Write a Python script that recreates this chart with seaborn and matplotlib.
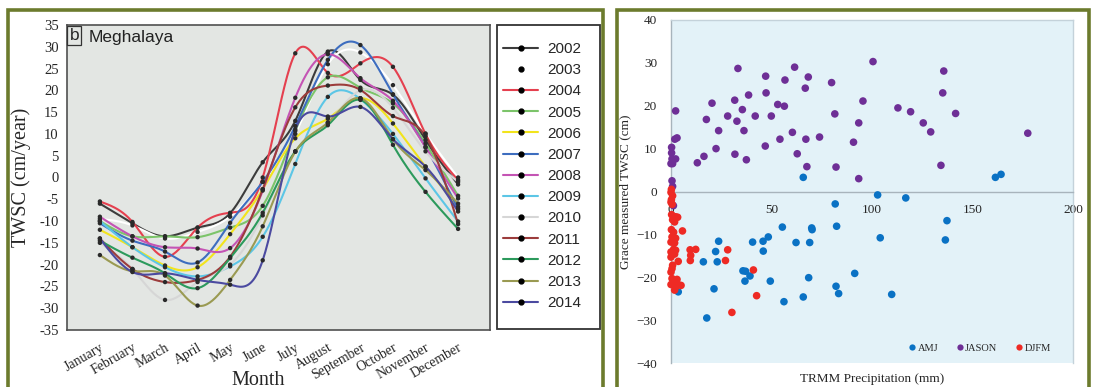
import numpy as np
import pandas as pd
import matplotlib
matplotlib.use("Agg")
import matplotlib.pyplot as plt
import seaborn as sns
from matplotlib.lines import Line2D
from matplotlib.patches import Rectangle

# ---------------- data: left panel (Meghalaya TWSC) ----------------
months = ["January", "February", "March", "April", "May", "June", "July",
          "August", "September", "October", "November", "December"]
years = ["2002", "2003", "2004", "2005", "2006", "2007", "2008",
         "2009", "2010", "2011", "2012", "2013", "2014"]
twsc_2002 = [-6.0, -10.5, -13.5, -11.5, -8.2, 3.5, 13.0, 28.9, 22.4, 19.0, 8.6, -1.6]
twsc_2003 = [-9.5, -11.0, -14.0, -12.5, -9.0, -1.0, 10.0, 26.0, 28.7, 21.2, 10.1, 0.0]
twsc_2004 = [-5.5, -10.2, -18.2, -11.5, -8.1, 0.0, 28.5, 24.0, 26.2, 25.4, 10.0, -0.6]
twsc_2005 = [-10.0, -13.5, -13.5, -13.7, -11.5, -6.5, 10.7, 23.0, 20.6, 17.0, 7.8, -4.2]
twsc_2006 = [-12.0, -16.0, -20.2, -20.6, -13.0, -2.7, 9.0, 13.5, 18.2, 12.4, 2.5, -6.7]
twsc_2007 = [-10.5, -14.5, -17.0, -19.5, -10.4, -1.0, 11.8, 27.0, 30.4, 19.1, 7.0, -7.2]
twsc_2008 = [-9.0, -13.5, -16.0, -16.3, -16.2, -3.0, 18.3, 28.3, 22.8, 17.6, 6.9, -4.8]
twsc_2009 = [-10.0, -16.0, -20.6, -22.7, -20.4, -13.6, 3.1, 18.5, 18.0, 10.0, -0.2, -10.1]
twsc_2010 = [-15.0, -21.0, -28.1, -24.0, -20.0, -8.7, 6.0, 12.6, 20.0, 16.0, 6.0, -1.0]
twsc_2011 = [-14.0, -21.0, -24.0, -23.5, -18.2, -2.7, 16.1, 21.1, 20.1, 14.1, 9.5, -10.7]
twsc_2012 = [-14.5, -18.4, -22.0, -25.4, -18.5, -8.1, 6.0, 12.0, 17.8, 7.5, -3.3, -11.8]
twsc_2013 = [-17.8, -21.5, -22.5, -29.4, -23.5, -11.2, 5.9, 12.6, 18.2, 8.8, 1.7, -6.0]
twsc_2014 = [-14.0, -21.7, -22.0, -23.5, -24.6, -19.0, 11.0, 14.0, 16.2, 8.8, 2.5, -7.8]
year_series = [twsc_2002, twsc_2003, twsc_2004, twsc_2005, twsc_2006, twsc_2007, twsc_2008,
               twsc_2009, twsc_2010, twsc_2011, twsc_2012, twsc_2013, twsc_2014]
year_colors = ["#3c3c3c", "#ffffff", "#e5404f", "#7cc46a", "#f2e41c", "#3d6dbf", "#c454b4",
               "#5cc6e6", "#d6d6d6", "#9c3c3c", "#2c9a5c", "#9a9a52", "#4b4aa0"]

# ---------------- data: right panel (scatter) ----------------
amj_x = [65.8, 161.4, 164.2, 102.8, 116.8, 3.6, 16.1, 17.8, 21.4, 22.2, 23.0, 23.7, 35.8, 36.8,
         37.1, 39.3, 40.6, 45.8, 45.9, 48.4, 49.4, 55.4, 56.2, 62.2, 65.8, 68.5, 69.0, 70.0,
         70.2, 81.7, 82.4, 82.1, 83.4, 91.4, 104.1, 109.8, 137.3, 136.5]
amj_y = [3.3, 3.3, 4.0, -0.8, -1.5, -23.4, -16.4, -29.5, -22.7, -14.0, -16.4, -11.6, -18.5, -20.9,
         -18.6, -19.7, -11.8, -11.6, -13.9, -10.6, -20.9, -8.3, -25.7, -11.9, -24.6, -20.1, -11.9, -8.5,
         -8.9, -2.9, -8.1, -22.1, -23.8, -19.1, -10.8, -24.0, -6.8, -11.3]
jason_x = [0.3, 0.3, 0.5, 0.0, 0.8, 2.3, 1.9, 3.0, 2.3, 0.5, 0.8, 1.2,
           13.1, 16.4, 17.6, 20.4, 22.4, 23.7, 28.2, 31.7, 31.8, 32.8, 33.3, 35.5, 36.3, 37.5,
           38.6, 41.9, 46.9, 47.1, 47.3, 49.9, 53.1, 54.2, 56.4, 56.7, 60.4, 61.5, 62.8, 66.8,
           67.1, 67.6, 68.3, 73.9, 79.9, 81.5, 82.1, 90.8, 93.4, 93.4, 95.5, 100.5, 112.9, 119.2,
           125.5, 129.2, 135.7, 135.2, 141.6, 134.3, 177.5]
jason_y = [9.0, 10.3, 7.6, 6.5, 6.5, 18.8, 12.2, 12.5, 7.6, 2.5, 1.2, -3.3,
           6.7, 8.2, 16.8, 20.6, 10.0, 14.2, 17.6, 21.3, 8.7, 16.4, 28.7, 19.1, 14.2, 7.4,
           22.5, 17.6, 10.6, 26.9, 23.0, 17.6, 20.3, 12.2, 19.9, 26.0, 13.8, 29.0, 8.8, 24.1,
           12.2, 5.8, 26.7, 12.7, 25.4, 18.1, 5.7, 11.5, 16.0, 3.0, 21.1, 30.3, 19.5, 18.6,
           16.0, 13.9, 28.1, 23.0, 18.2, 6.1, 13.6]
djfm_x = [0.0, 0.8, 0.2, 0.3, 2.3, 3.3, 0.8, 1.8, 0.2, 1.3, 5.7, 0.5, 2.3, 0.0, 1.8, 1.3, 2.3,
          0.0, 1.8, 0.0, 3.6, 0.8, 0.5, 0.0, 0.5, 3.0, 1.3, 3.0, 0.0, 2.6, 5.0, 1.8, 9.5, 12.3,
          9.8, 9.6, 28.2, 27.1, 41.0, 42.6, 30.3, 0.2, 0.6, 0.0]
djfm_y = [-0.2, -1.0, -1.9, -5.4, -5.9, -6.0, -6.6, -7.1, -8.9, -9.5, -9.2, -10.6, -10.9, -11.8,
          -12.0, -13.5, -13.7, -14.1, -14.6, -15.3, -16.3, -17.2, -18.0, -18.8, -20.3, -20.5,
          -21.5, -21.4, -21.7, -22.1, -21.9, -23.0, -13.6, -13.5, -14.9, -16.1, -13.6, -16.1,
          -18.3, -24.3, -28.2, 0.5, -3.0, -2.5]
seasons = ["AMJ", "JASON", "DJFM"]
season_colors = ["#0a72c4", "#6e2f96", "#ee2a24"]


def natural_spline(x, y, per=24):
    x = np.asarray(x, float)
    y = np.asarray(y, float)
    n = len(x)
    h = np.diff(x)
    A = np.zeros((n, n))
    b = np.zeros(n)
    A[0, 0] = A[-1, -1] = 1
    for i in range(1, n - 1):
        A[i, i - 1] = h[i - 1]
        A[i, i] = 2 * (h[i - 1] + h[i])
        A[i, i + 1] = h[i]
        b[i] = 3 * ((y[i + 1] - y[i]) / h[i] - (y[i] - y[i - 1]) / h[i - 1])
    c = np.linalg.solve(A, b)
    xs, ys = [], []
    for i in range(n - 1):
        t = np.linspace(0, h[i], per, endpoint=False)
        bi = (y[i + 1] - y[i]) / h[i] - h[i] * (2 * c[i] + c[i + 1]) / 3
        di = (c[i + 1] - c[i]) / (3 * h[i])
        xs.append(x[i] + t)
        ys.append(y[i] + bi * t + c[i] * t ** 2 + di * t ** 3)
    xs.append([x[-1]])
    ys.append([y[-1]])
    return np.concatenate(xs), np.concatenate(ys)


sns.set_style("white")
plt.rcParams["font.family"] = ["Liberation Serif", "DejaVu Serif"]

W, H = 1093, 387
fig = plt.figure(figsize=(W / 100, H / 100), dpi=100)
fig.patch.set_facecolor("white")


def fx(px):
    return px / W


def fy(py):
    return 1 - py / H


# outer olive frames
frame_col = "#6c7b2d"
fig.patches.append(Rectangle((fx(8), fy(420)), fx(603 - 8), fy(10) - fy(420), transform=fig.transFigure,
                             fill=False, edgecolor=frame_col, linewidth=2.6, zorder=0))
fig.patches.append(Rectangle((fx(617), fy(420)), fx(1089 - 617), fy(10) - fy(420), transform=fig.transFigure,
                             fill=False, edgecolor=frame_col, linewidth=2.6, zorder=0))

# ---------------- left panel ----------------
ax1 = fig.add_axes([fx(67), fy(330), fx(490 - 67), fy(25) - fy(330)])
ax1.set_facecolor("#e3e6e3")
idx = np.arange(len(months))
rows = []
for yr, vals in zip(years, year_series):
    sx, sy = natural_spline(idx, vals)
    rows.append(pd.DataFrame({"x": sx, "y": sy, "year": yr}))
smooth_df = pd.concat(rows, ignore_index=True)
sns.lineplot(data=smooth_df, x="x", y="y", hue="year", palette=dict(zip(years, year_colors)),
             estimator=None, sort=False, units="year", legend=False, linewidth=1.5, ax=ax1)
pts = pd.DataFrame({"x": np.tile(idx, len(years)), "y": np.concatenate(year_series)})
sns.scatterplot(data=pts, x="x", y="y", color="#2a2a2a", s=10, edgecolor="none", ax=ax1, zorder=5)
ax1.set_xlim(-1.01, 11.98)
ax1.set_ylim(-35, 35)
ax1.set_yticks(np.arange(-35, 36, 5))
ax1.set_yticklabels([str(v) for v in range(-35, 36, 5)], fontsize=10.5)
ax1.set_xticks(idx)
ax1.set_xticklabels(months, rotation=30, ha="right", rotation_mode="anchor", fontsize=10)
ax1.tick_params(axis="both", direction="out", length=4, width=1, color="#444444", pad=2)
ax1.tick_params(axis="x", pad=4)
for sp in ax1.spines.values():
    sp.set_color("#505050")
    sp.set_linewidth(1.2)
ax1.set_ylabel("TWSC (cm/year)", fontsize=14.5)
ax1.yaxis.set_label_coords(-0.084, 0.5)
ax1.set_xlabel("Month", fontsize=14.5)
ax1.xaxis.set_label_coords(0.452, -0.135)
ax1.text(0.006, 0.99, "b", transform=ax1.transAxes, fontsize=12.5, va="top", ha="left",
         family=["Liberation Sans", "DejaVu Sans"],
         bbox=dict(boxstyle="square,pad=0.12", facecolor="none", edgecolor="#333333", linewidth=0.9))
ax1.text(0.05, 0.985, "Meghalaya", transform=ax1.transAxes, fontsize=12.5, va="top", ha="left",
         family=["Liberation Sans", "DejaVu Sans"], color="#222222")

# legend box
fig.patches.append(Rectangle((fx(497), fy(329)), fx(600 - 497), fy(25) - fy(329), transform=fig.transFigure,
                             fill=True, facecolor="white", edgecolor="#333333", linewidth=1.3, zorder=1))
handles = [Line2D([0], [0], color=c, lw=1.5, marker="o", markersize=3.5,
                  markerfacecolor="black", markeredgecolor="black") for c in year_colors]
leg1 = fig.legend(handles, years, loc="upper left", bbox_to_anchor=(fx(503), fy(42)),
                  frameon=False, prop={"family": ["Liberation Sans", "DejaVu Sans"], "size": 11},
                  handlelength=2.3, handletextpad=0.6, labelspacing=0.47, borderaxespad=0,
                  borderpad=0)

# ---------------- right panel ----------------
ax2 = fig.add_axes([fx(671), fy(363), fx(1073 - 671), fy(20) - fy(363)])
ax2.set_facecolor("#e3f2f8")
sc_df = pd.concat([
    pd.DataFrame({"p": amj_x, "t": amj_y, "season": "AMJ"}),
    pd.DataFrame({"p": jason_x, "t": jason_y, "season": "JASON"}),
    pd.DataFrame({"p": djfm_x, "t": djfm_y, "season": "DJFM"}),
], ignore_index=True)
sns.scatterplot(data=sc_df, x="p", y="t", hue="season", hue_order=seasons,
                palette=dict(zip(seasons, season_colors)), s=30, edgecolor="none",
                ax=ax2, clip_on=False, zorder=5, legend=False)
ax2.set_xlim(0, 200)
ax2.set_ylim(-40, 40)
ax2.set_xticks([0, 50, 100, 150, 200])
ax2.set_yticks(np.arange(-40, 41, 10))
ax2.tick_params(axis="x", direction="in", length=4, color="#a8b4bc", labelsize=9.5, pad=9)
ax2.tick_params(axis="y", length=0, labelsize=9.5, pad=10)
ax2.spines["bottom"].set_position(("data", 0))
ax2.spines["bottom"].set_color("#a8b4bc")
ax2.spines["left"].set_color("#a8b4bc")
ax2.spines["top"].set_color("#c4d2da")
ax2.spines["right"].set_color("#c4d2da")
for sp in ax2.spines.values():
    sp.set_linewidth(1.0)
ax2.set_xlabel("TRMM Precipitation (mm)", fontsize=9.5)
ax2.xaxis.set_label_coords(0.5, -0.028)
ax2.set_ylabel("Grace measured TWSC (cm)", fontsize=9.5)
ax2.yaxis.set_label_coords(-0.098, 0.5)
sh = [Line2D([0], [0], linestyle="none", marker="o", markersize=4.5, markerfacecolor=c,
             markeredgecolor="none") for c in season_colors]
leg2 = ax2.legend(sh, seasons, loc="lower right", bbox_to_anchor=(0.955, 0.018), ncol=3, frameon=False,
                  fontsize=7.5, handletextpad=0.0, columnspacing=1.6, handlelength=1.0,
                  borderaxespad=0)

fig.savefig("out.png", dpi=100)
